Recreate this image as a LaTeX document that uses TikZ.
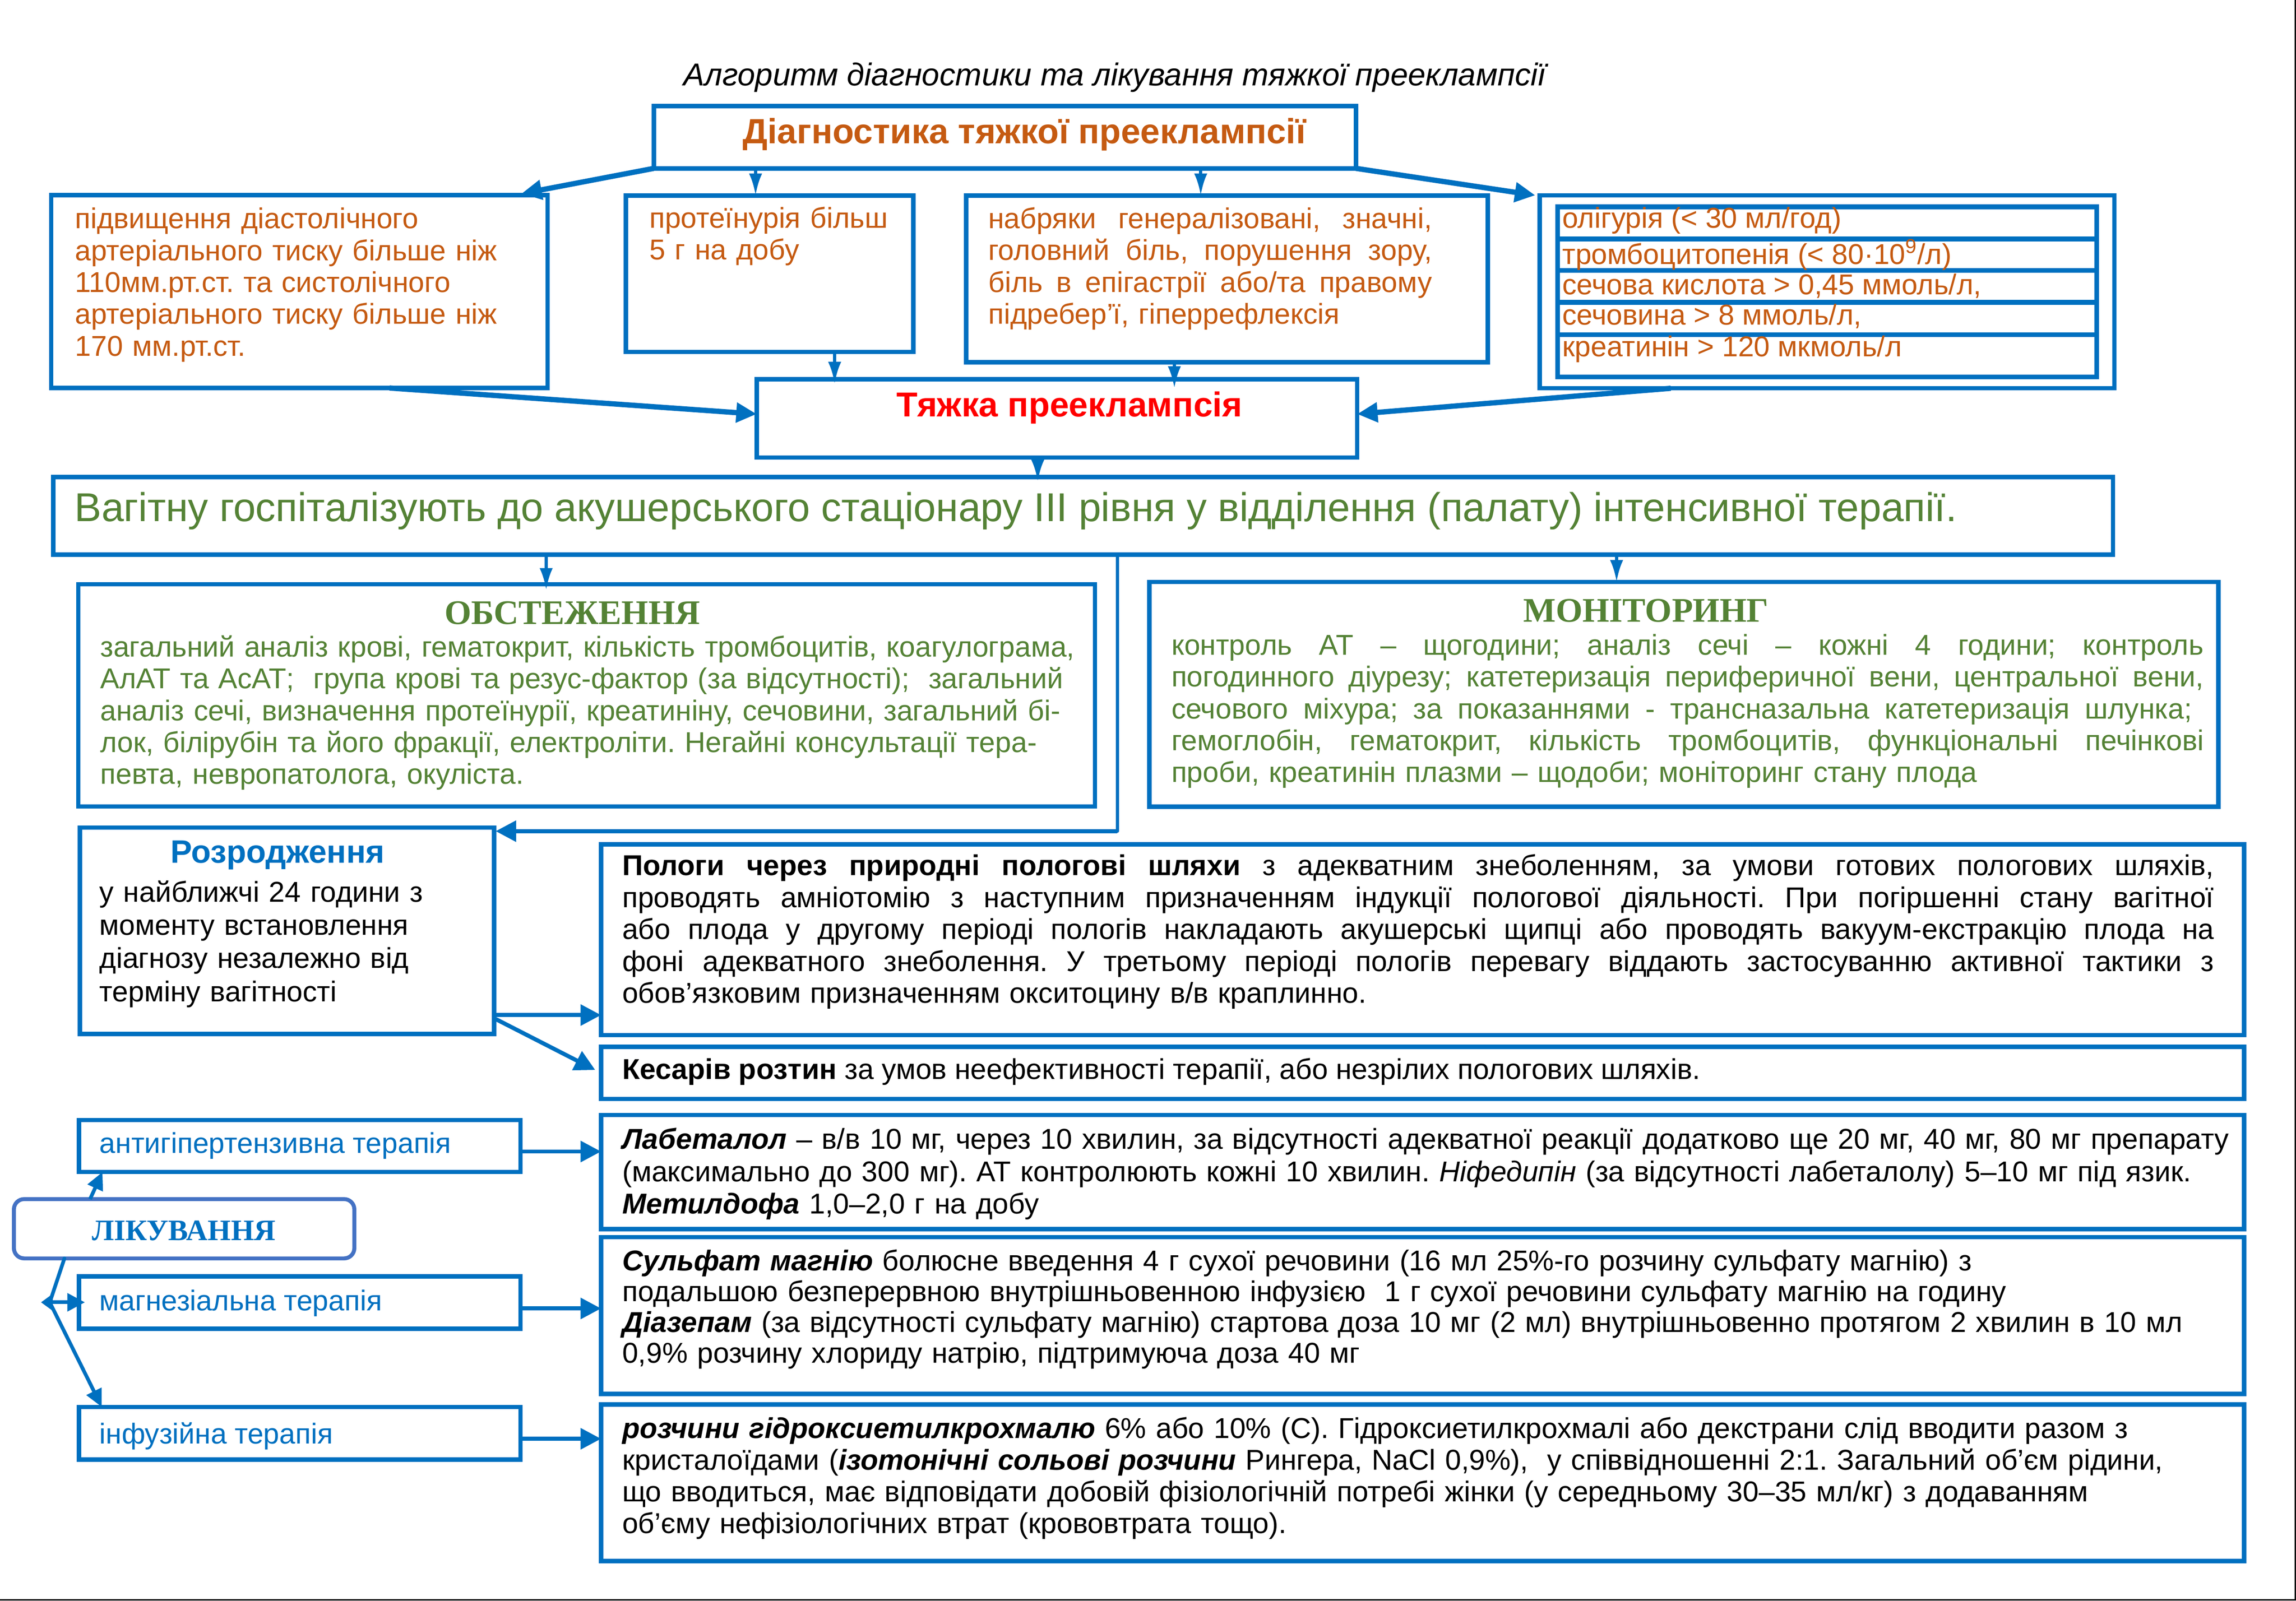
\documentclass[tikz,border=0pt]{standalone}
\usepackage{fontspec}
\setmainfont{Liberation Sans}
\newfontfamily\serifbf{Liberation Serif}
\usetikzlibrary{arrows.meta,calc}
\definecolor{cblue}{HTML}{0070C0}
\definecolor{corange}{HTML}{C55A11}
\definecolor{cgreen}{HTML}{548235}
\definecolor{cred}{HTML}{FF0000}
\definecolor{clblue}{HTML}{4472C4}
\newcommand{\fsz}[2]{\fontsize{#1}{#2}\selectfont\lineskiplimit=-100pt\frenchspacing\relax}
\newcommand{\lnJ}[2]{\leavevmode\hbox to #1{\frenchspacing\spaceskip=.278em plus 1fill minus .06em\xspaceskip=\spaceskip\relax #2}}
\newcommand{\lnR}[1]{\makebox[\linewidth][l]{#1}}
\newcommand{\mybox}[6][]{\node[box,#1,anchor=north west,minimum width={(#5)-(#3)},minimum height={(#6)-(#4)}] (#2) at (#3,#4) {};}
\begin{document}
\begin{tikzpicture}[x=1pt,y=-1pt,
 box/.style={draw=cblue,line width=3pt,inner sep=0pt,outer sep=0pt},
 bigarrow/.style={draw=cblue,line width=3.6pt,-{Triangle[length=14pt,width=13pt]}},
 varrow/.style={draw=cblue,line width=2.2pt,-{Latex[length=15pt,width=9pt]}},
 harrow/.style={draw=cblue,line width=2.8pt,-{Triangle[length=14pt,width=14pt]}},
 larrow/.style={draw=cblue,line width=2.5pt,-{Triangle[length=12pt,width=11pt]}},
 lline/.style={draw=cblue,line width=2.5pt},
 txt/.style={inner sep=0pt,outer sep=0pt,anchor=base west,font={\fsz{19.6}{21.75}}},
]
\useasboundingbox (0,0) rectangle (1568,1093.3);
\fill[white] (0,0) rectangle (1568,1093.3);

% title
\node[txt,anchor=base,font={\fsz{21.6}{26}\itshape}] (title) at (761,58.5) {Алгоритм діагностики та лікування тяжкої прееклампсії};

% diagnostics
\mybox{diag}{446.5}{72.5}{926}{115}
\node[txt,anchor=base,text=corange,font={\fsz{23.9}{27}\bfseries}] (diagt) at (699.5,98) {Діагностика тяжкої прееклампсії};

\mybox{box1}{35}{133.3}{374}{265}
\node[txt,text=corange,text width=320pt] (t1) at (51.3,156.1) {\lnR{підвищення діастолічного}\\\lnR{артеріального тиску більше ніж}\\\lnR{110мм.рт.ст. та систолічного}\\\lnR{артеріального тиску більше ніж}\\\lnR{170 мм.рт.ст.}};

\mybox{box2}{427.5}{133.5}{623.7}{240.3}
\node[txt,text=corange,text width=175pt] (t2) at (443.5,155.6) {\lnR{протеїнурія більш}\\\lnR{5 г на добу}};

\mybox{box3}{659.8}{133.5}{1016}{247.4}
\node[txt,text=corange,text width=303pt] (t3) at (675,156) {\lnJ{303pt}{набряки генералізовані, значні,}\\\lnJ{303pt}{головний біль, порушення зору,}\\\lnJ{303pt}{біль в епігастрії або/та правому}\\\lnR{підребер'ї, гіперрефлексія}};

\mybox{box4}{1051.5}{133.4}{1444}{265.2}
\mybox[line width=3.2pt]{r1}{1063.7}{141.3}{1431.8}{163.2}
\mybox[line width=3.2pt]{r2}{1063.7}{163.2}{1431.8}{184.8}
\mybox[line width=3.2pt]{r3}{1063.7}{184.8}{1431.8}{206.5}
\mybox[line width=3.2pt]{r4}{1063.7}{206.5}{1431.8}{228.5}
\mybox[line width=3.2pt]{r5}{1063.7}{228.5}{1431.8}{257.4}
\node[txt,text=corange] (r1t) at (1067,155.8) {олігурія (< 30 мл/год)};
\node[txt,text=corange] (r2t) at (1067,180.4) {тромбоцитопенія (< 80·10\textsuperscript{9}/л)};
\node[txt,text=corange] (r3t) at (1067,201.2) {сечова кислота > 0,45 ммоль/л,};
\node[txt,text=corange] (r4t) at (1067,221.9) {сечовина > 8 ммоль/л,};
\node[txt,text=corange] (r5t) at (1067,243.5) {креатинін > 120 мкмоль/л};

% severe preeclampsia
\mybox{tyazh}{516.8}{259.1}{926.8}{312.5}
\node[txt,anchor=base,text=cred,font={\fsz{23.6}{27}\bfseries}] (tyazht) at (730.5,284.5) {Тяжка прееклампсія};

\mybox{vag}{36.3}{325.9}{1443}{378.9}
\node[txt,text=cgreen,font={\fsz{27.5}{32}}] (vagt) at (51,356) {Вагітну госпіталізують до акушерського стаціонару ІІІ рівня у відділення (палату) інтенсивної терапії.};

% examination
\mybox{obst}{53.5}{399}{747.8}{550.8}
\node[txt,anchor=base,text=cgreen,font={\fsz{23.5}{27}\serifbf\bfseries}] (obstt) at (390.9,426.2) {ОБСТЕЖЕННЯ};
\node[txt,text=cgreen,text width=670pt] (obstb) at (68.5,448.6) {\lnR{загальний аналіз крові, гематокрит, кількість тромбоцитів, коагулограма,}\\\lnR{АлАТ та АсАТ;\ \ група крові та резус-фактор (за відсутності);\ \ загальний}\\\lnR{аналіз сечі, визначення протеїнурії, креатиніну, сечовини, загальний бі-}\\\lnR{лок, білірубін та його фракції, електроліти. Негайні консультації тера-}\\\lnR{певта, невропатолога, окуліста.}};

% monitoring
\mybox{monit}{785}{397.5}{1515}{551}
\node[txt,anchor=base,text=cgreen,font={\fsz{23.5}{27}\serifbf\bfseries}] (monitt) at (1124,424.7) {МОНІТОРИНГ};
\node[txt,text=cgreen,text width=705pt] (monitb) at (800,447.3) {\lnJ{705pt}{контроль АТ – щогодини; аналіз сечі – кожні 4 години; контроль}\\\lnJ{705pt}{погодинного діурезу; катетеризація периферичної вени, центральної вени,}\\\lnJ{697pt}{сечового міхура; за показаннями - трансназальна катетеризація шлунка;}\\\lnJ{705pt}{гемоглобін, гематокрит, кількість тромбоцитів, функціональні печінкові}\\\lnR{проби, креатинін плазми – щодоби; моніторинг стану плода}};

% delivery
\mybox{rozr}{54.5}{565.2}{337.5}{706.2}
\node[txt,anchor=base,text=cblue,font={\fsz{22.1}{25}\bfseries}] (rozrt) at (189.6,589.4) {Розродження};
\node[txt,text width=260pt,font={\fsz{19.6}{22.7}}] (rozrb) at (68,615.9) {\lnR{у найближчі 24 години з}\\\lnR{моменту встановлення}\\\lnR{діагнозу незалежно від}\\\lnR{терміну вагітності}};

\mybox{pologi}{410.5}{576.7}{1532.5}{707}
\node[txt,text width=1087pt,font={\fsz{19.6}{21.8}}] (pologit) at (425,598) {\lnJ{1087pt}{\textbf{Пологи через природні пологові шляхи} з адекватним знеболенням, за умови готових пологових шляхів,}\\\lnJ{1087pt}{проводять амніотомію з наступним призначенням індукції пологової діяльності. При погіршенні стану вагітної}\\\lnJ{1087pt}{або плода у другому періоді пологів накладають акушерські щипці або проводять вакуум-екстракцію плода на}\\\lnJ{1087pt}{фоні адекватного знеболення. У третьому періоді пологів перевагу віддають застосуванню активної тактики з}\\\lnR{обов'язковим призначенням окситоцину в/в краплинно.}};

\mybox{kesar}{410.5}{715}{1532.5}{750.6}
\node[txt] (kesart) at (425,737) {\textbf{Кесарів розтин} за умов неефективності терапії, або незрілих пологових шляхів.};

% treatment
\node[draw=clblue,line width=2.7pt,rounded corners=7pt,inner sep=0pt,outer sep=0pt,anchor=north west,minimum width=232.5pt,minimum height=40.5pt] (likuv) at (9.5,819) {};
\node[txt,anchor=base,text=cblue,font={\fsz{20.3}{23}\serifbf\bfseries}] (likuvt) at (125.5,847.3) {ЛІКУВАННЯ};

\mybox{antigip}{54}{765}{355.5}{800.5}
\node[txt,text=cblue] (antigipt) at (68,787.5) {антигіпертензивна терапія};
\mybox{magnez}{54}{871.8}{355.5}{907.5}
\node[txt,text=cblue] (magnezt) at (68,895) {магнезіальна терапія};
\mybox{infuz}{54}{961}{355.5}{997}
\node[txt,text=cblue] (infuzt) at (68,986) {інфузійна терапія};

\mybox{label}{410.5}{761.5}{1532.5}{839.5}
\node[txt,text width=1105pt,font={\fsz{19.6}{22.2}}] (labelt) at (425,784.7) {\lnR{\textbf{\textit{Лабеталол}} – в/в 10 мг, через 10 хвилин, за відсутності адекватної реакції додатково ще 20 мг, 40 мг, 80 мг препарату}\\\lnR{(максимально до 300 мг). АТ контролюють кожні 10 хвилин. \textit{Ніфедипін} (за відсутності лабеталолу) 5–10 мг під язик.}\\\lnR{\textbf{\textit{Метилдофа}} 1,0–2,0 г на добу}};

\mybox{sulf}{410.5}{845}{1532.5}{952}
\node[txt,text width=1105pt,font={\fsz{19.6}{21}}] (sulft) at (425,868) {\lnR{\textbf{\textit{Сульфат магнію}} болюсне введення 4 г сухої речовини (16 мл 25\%-го розчину сульфату магнію) з}\\\lnR{подальшою безперервною внутрішньовенною інфузією\ \ 1 г сухої речовини сульфату магнію на годину}\\\lnR{\textbf{\textit{Діазепам}} (за відсутності сульфату магнію) стартова доза 10 мг (2 мл) внутрішньовенно протягом 2 хвилин в 10 мл}\\\lnR{0,9\% розчину хлориду натрію, підтримуюча доза 40 мг}};

\mybox{rozch}{410.5}{959.3}{1532.5}{1066.2}
\node[txt,text width=1105pt,font={\fsz{19.6}{21.6}}] (rozcht) at (425,982.4) {\lnR{\textbf{\textit{розчини гідроксиетилкрохмалю}} 6\% або 10\% (С). Гідроксиетилкрохмалі або декстрани слід вводити разом з}\\\lnR{кристалоїдами (\textbf{\textit{ізотонічні сольові розчини}} Рингера, NaCl 0,9\%),\ \ у співвідношенні 2:1. Загальний об’єм рідини,}\\\lnR{що вводиться, має відповідати добовій фізіологічній потребі жінки (у середньому 30–35 мл/кг) з додаванням}\\\lnR{об’єму нефізіологічних втрат (крововтрата тощо).}};

% ---------- connectors ----------
\coordinate (cx2) at (516,0);
\coordinate (cx3) at (820,0);
\coordinate (cx5) at (266,0);
\coordinate (cx6) at (570,0);
\coordinate (cx7) at (802,0);
\coordinate (cx8) at (1141,0);
\coordinate (cx9) at (708.7,0);
\coordinate (cx10) at (373,0);
\coordinate (cx11) at (1104,0);
\coordinate (cx12) at (763,0);
\draw[bigarrow] (diag.south west) -- ($(box1.north east)+(-18,-1)$);
\draw[varrow] (diag.south -| cx2) -- (box2.north -| cx2);
\draw[varrow] (diag.south -| cx3) -- (box3.north -| cx3);
\draw[bigarrow] (diag.south east) -- ($(box4.north west)+(-3,0)$);
\draw[bigarrow] (box1.south -| cx5) -- ($(tyazh.west)+(0,-3)$);
\draw[varrow] (box2.south -| cx6) -- ($(tyazh.north -| cx6)+(0,3)$);
\draw[varrow] (box3.south -| cx7) -- ($(tyazh.north -| cx7)+(0,6)$);
\draw[bigarrow] (box4.south -| cx8) -- ($(tyazh.east)+(0,-3)$);
\draw[varrow] (tyazh.south -| cx9) -- ($(vag.north -| cx9)+(0,3)$);
\draw[varrow] (vag.south -| cx10) -- ($(obst.north -| cx10)+(0,4)$);
\draw[varrow] (vag.south -| cx11) -- (monit.north -| cx11);
\coordinate (cr) at ($(rozr.north east)+(1,2.5)$);
\draw[cblue,line width=2.2pt,line cap=round] (vag.south -| cx12) -- (cx12 |- cr);
\draw[harrow] (cx12 |- cr) -- (cr);
\coordinate (cy13) at (0,693.3);
\coordinate (cy14) at (0,695.5);
\draw[harrow] (rozr.east |- cy13) -- (pologi.west |- cy13);
\draw[harrow] (rozr.east |- cy14) -- ($(kesar.west)+(-4,-2)$);

\coordinate (J) at (34,889.5);
\coordinate (L1) at (61.5,0);
\coordinate (L2) at (70,0);
\coordinate (L3) at (44,0);
\coordinate (L4) at (69.5,0);
\draw[larrow] (likuv.north -| L1) -- (antigip.south -| L2);
\draw[lline,line cap=round] (likuv.south -| L3) -- (J);
\draw[lline,{Triangle[length=8pt,width=11pt]}-{Triangle[length=12pt,width=12pt]}] ($(J)+(-6,0)$) -- ($(magnez.west |- J)+(4,0)$);
\draw[larrow] (J) -- (infuz.north -| L4);

\coordinate (h1) at (0,786.5);
\coordinate (h2) at (0,893.7);
\coordinate (h3) at (0,982.7);
\draw[harrow] (antigip.east |- h1) -- (label.west |- h1);
\draw[harrow] (magnez.east |- h2) -- (sulf.west |- h2);
\draw[harrow] (infuz.east |- h3) -- (rozch.west |- h3);

% page frame
\draw[black,line width=1pt] (1567.5,0) -- (1567.5,1092.8) -- (0,1092.8);
\end{tikzpicture}
\end{document}
